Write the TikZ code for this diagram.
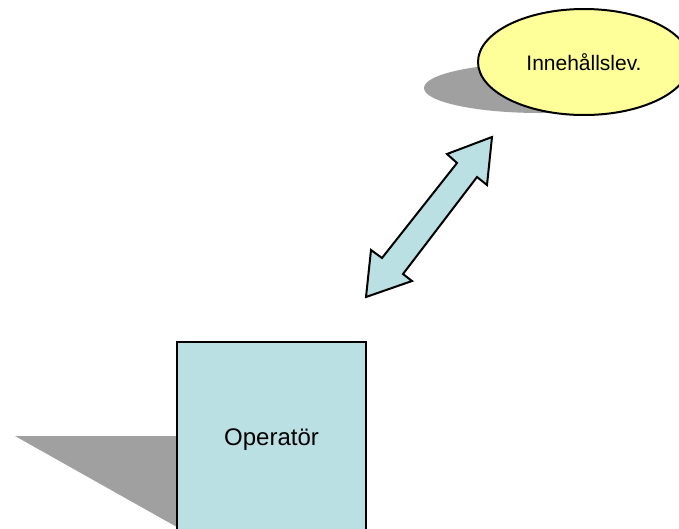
\documentclass[tikz,border=0pt]{standalone}
\usepackage{fontspec}
\setmainfont{Liberation Sans}
\usetikzlibrary{shapes.geometric}
\definecolor{boxfill}{HTML}{BBE0E3}
\definecolor{ellfill}{HTML}{FFFF99}
\definecolor{shadowgray}{HTML}{A0A0A0}
\tikzset{
  boxnode/.style={draw=black, line width=2pt, fill=boxfill, minimum width=189pt, minimum height=196pt, inner sep=0pt, font=\fontsize{24}{28}\selectfont},
  ellnode/.style={ellipse, draw=black, line width=2pt, fill=ellfill, minimum width=212pt, minimum height=106pt, inner sep=0pt, font=\fontsize{21}{25}\selectfont},
  arrowshape/.style={draw=black, line width=2pt, fill=boxfill, line join=miter}
}
\begin{document}
\begin{tikzpicture}[x=1pt,y=-1pt]
\useasboundingbox (0,0) rectangle (679,528);
\clip (0,0) rectangle (679,528);
% shadows
\fill[shadowgray] (15,436) -- (200,436) -- (200,540) -- cycle;
\fill[shadowgray] (540,88) ellipse [x radius=116, y radius=25];
% nodes
\node[boxnode] (op) at (271.5,440) {Operatör};
\node[ellnode] (inn) at (584,62) {Innehållslev.};
% double arrow
\draw[arrowshape] (492,137) -- (487,185) -- (477,177) -- (403,274) -- (412,281)
  -- (366,297) -- (371,250) -- (382,258) -- (457,163) -- (447,154) -- cycle;
\end{tikzpicture}
\end{document}
